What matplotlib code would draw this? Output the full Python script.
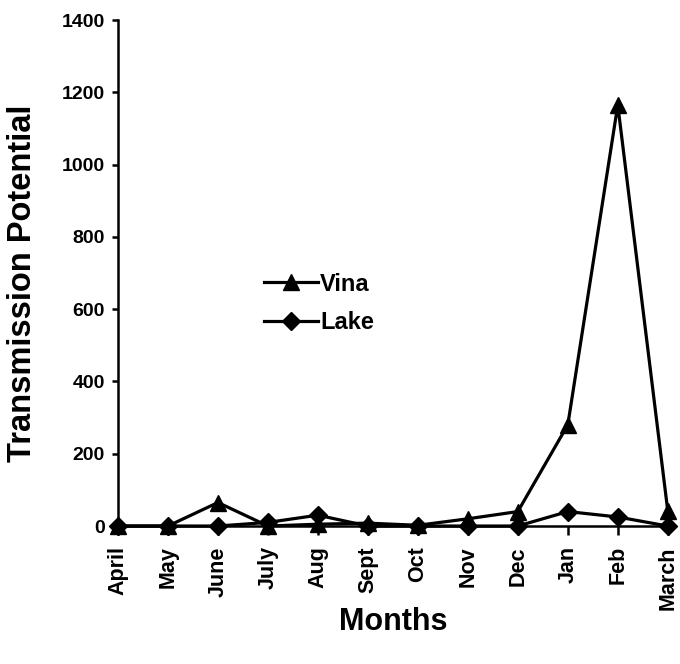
import matplotlib
matplotlib.use("Agg")
import matplotlib.pyplot as plt

plt.rcParams['font.family'] = ['Liberation Sans', 'DejaVu Sans']
plt.rcParams['font.weight'] = 'bold'

months = ['April', 'May', 'June', 'July', 'Aug', 'Sept', 'Oct', 'Nov', 'Dec', 'Jan', 'Feb', 'March']
vina = [0, 0, 65, 0, 5, 8, 2, 20, 40, 280, 1165, 42]
lake = [0, 0, 0, 10, 30, 0, 0, 0, 0, 40, 25, 0]

fig = plt.figure(figsize=(6.8, 6.64), dpi=100)
ax = fig.add_axes([0.1735, 0.2078, 0.8085, 0.762])

x = list(range(len(months)))
ax.plot(x, vina, color='black', lw=2.3, marker='^', ms=12, label='Vina', clip_on=False, zorder=3)
ax.plot(x, lake, color='black', lw=2.3, marker='D', ms=9.5, label='Lake', clip_on=False, zorder=3)

ax.set_xlim(0, 11)
ax.set_ylim(0, 1400)
ax.set_yticks(range(0, 1401, 200))
ax.set_xticks(x)
ax.set_xticklabels(months, rotation=90, fontsize=15.5, fontweight='bold')
for t in ax.get_yticklabels():
    t.set_fontsize(14)
    t.set_fontweight('bold')

for s in ['top', 'right']:
    ax.spines[s].set_visible(False)
for s in ['left', 'bottom']:
    ax.spines[s].set_linewidth(1.8)
ax.tick_params(axis='x', direction='out', length=6.5, width=1.8, pad=8)
ax.tick_params(axis='y', direction='out', length=4.5, width=1.8, pad=5)

ax.set_ylabel('Transmission Potential', fontsize=23.5, fontweight='bold')
ax.yaxis.set_label_coords(-0.145, 0.48)
ax.set_xlabel('Months', fontsize=22, fontweight='bold')
ax.xaxis.set_label_coords(0.5, -0.16)

ax.legend(loc='center left', bbox_to_anchor=(0.265, 0.44), frameon=False,
          handlelength=2.3, handletextpad=0.1, labelspacing=0.65,
          borderpad=0, borderaxespad=0, prop={'weight': 'bold', 'size': 17})

fig.savefig('out.png', dpi=100)
